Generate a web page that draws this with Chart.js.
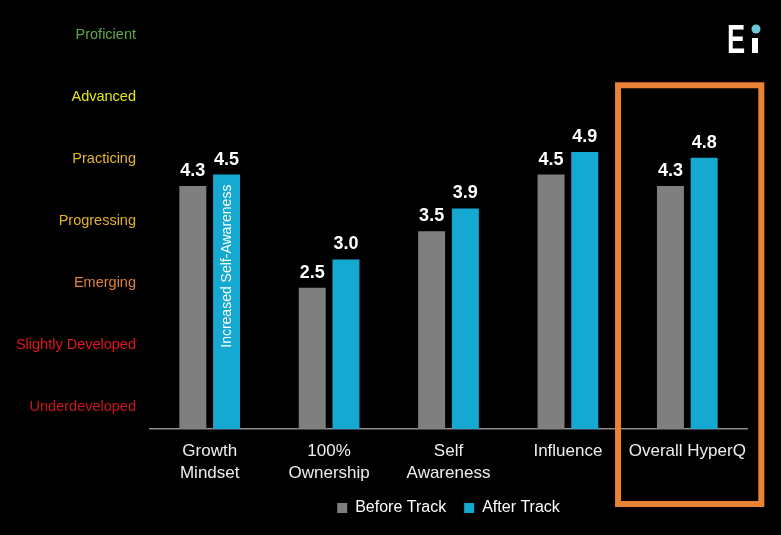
<!DOCTYPE html>
<html>
<head>
<meta charset="utf-8">
<title>HyperQ</title>
<script src="https://cdn.jsdelivr.net/npm/chart.js@4.4.1/dist/chart.umd.min.js"></script>
<style>
  html, body { margin: 0; padding: 0; background: #000; }
  #wrap { width: 781px; height: 535px; }
</style>
</head>
<body>
<div id="wrap"><canvas id="grafico"></canvas></div>
<script>
const categorias = [["Growth", "Mindset"], ["100%", "Ownership"], ["Self", "Awareness"], "Influence", "Overall HyperQ"];
const antes = [4.3, 2.5, 3.5, 4.5, 4.3];
const depois = [4.5, 3.0, 3.9, 4.9, 4.8];
const niveis = ["Underdeveloped", "Slightly Developed", "Emerging", "Progressing", "Practicing", "Advanced", "Proficient"];
const coresNiveis = ["#c9161e", "#e2161d", "#dc8139", "#e3b127", "#e5b52a", "#e4e612", "#5ea647"];
const destaque = "Increased Self-Awareness";

Chart.defaults.font.family = "'Liberation Sans', Arial, sans-serif";

// rotulos, faixa e logo desenhados por cima das barras
const extras = {
    id: "extras",
    afterDatasetsDraw(chart) {
        const ctx = chart.ctx;
        ctx.save();
        ctx.fillStyle = "#fff";
        ctx.font = "bold 18px 'Liberation Sans', Arial, sans-serif";
        ctx.textAlign = "center";
        ctx.textBaseline = "bottom";
        chart.data.datasets.forEach((ds, i) => {
            chart.getDatasetMeta(i).data.forEach((barra, j) => {
                ctx.fillText(ds.data[j].toFixed(1), barra.x, barra.y - 6);
            });
        });

        const b = chart.getDatasetMeta(1).data[0];
        ctx.translate(b.x, b.y + 10);
        ctx.rotate(-Math.PI / 2);
        ctx.font = "14px 'Liberation Sans', Arial, sans-serif";
        ctx.textAlign = "right";
        ctx.textBaseline = "middle";
        ctx.fillText(destaque, 0, 1);
        ctx.restore();
    },
    afterDraw(chart) {
        const ctx = chart.ctx;
        const x = chart.scales.x;
        const y = chart.scales.y;
        const larg = x.width / categorias.length;
        const centro = x.getPixelForValue(categorias.length - 1);
        const topo = y.getPixelForValue(6.08);

        ctx.save();
        ctx.strokeStyle = "#ea8434";
        ctx.lineWidth = 6;
        ctx.strokeRect(centro - larg * 0.58, topo, larg * 1.2, chart.chartArea.bottom + 75 - topo);

        // logo Ei
        ctx.fillStyle = "#fff";
        ctx.font = "bold 40px 'Liberation Sans', Arial, sans-serif";
        ctx.textBaseline = "alphabetic";
        ctx.translate(727, 53);
        ctx.scale(0.68, 1);
        ctx.fillText("E", 0, 0);
        ctx.setTransform(1, 0, 0, 1, 0, 0);
        ctx.scale(chart.currentDevicePixelRatio, chart.currentDevicePixelRatio);
        ctx.fillRect(752, 38, 6, 15);
        ctx.fillStyle = "#6cc9d6";
        ctx.beginPath();
        ctx.arc(756, 29, 4.5, 0, 2 * Math.PI);
        ctx.fill();
        ctx.restore();
    }
};

const grafico = new Chart("grafico", {
    type: "bar",
    data: {
        labels: categorias,
        datasets: [
            { label: "Before Track", data: antes, backgroundColor: "#7f7f7f", yAxisID: "y" },
            { label: "After Track", data: depois, backgroundColor: "#15a9d1", yAxisID: "y" }
        ]
    },
    options: {
        responsive: true,
        maintainAspectRatio: false,
        animation: false,
        categoryPercentage: 0.565,
        barPercentage: 0.8,
        layout: { padding: { top: 5, right: 34, bottom: 9, left: 0 } },
        plugins: {
            tooltip: { enabled: false },
            legend: {
                position: "bottom",
                fullSize: false,
                labels: {
                    color: "#fff",
                    boxWidth: 10,
                    boxHeight: 10,
                    padding: 18,
                    font: { size: 16 }
                }
            }
        },
        scales: {
            x: {
                grid: { display: false, drawTicks: false },
                border: { display: true, color: "#8a8a8a", width: 1.5 },
                afterFit: (eixo) => { eixo.height = 53; },
                ticks: {
                    autoSkip: false,
                    color: "#eeeeee",
                    padding: 11,
                    font: { size: 17, lineHeight: 1.3 },
                    maxRotation: 0
                }
            },
            y: {
                display: false,
                min: 0,
                max: 7.5
            },
            lv: {
                type: "linear",
                position: "left",
                min: -0.354,
                max: 6.48,
                grid: { display: false, drawTicks: false },
                border: { display: false },
                afterBuildTicks: (eixo) => { eixo.ticks = niveis.map((n, i) => ({ value: i })); },
                afterFit: (eixo) => {
                    eixo.width = 150;
                    eixo.paddingTop = 0;
                    eixo.paddingBottom = 0;
                },
                ticks: {
                    autoSkip: false,
                    padding: 14,
                    font: { size: 14.5 },
                    color: (c) => coresNiveis[c.index],
                    callback: (v) => niveis[v]
                }
            }
        }
    },
    plugins: [extras]
});
</script>
</body>
</html>
